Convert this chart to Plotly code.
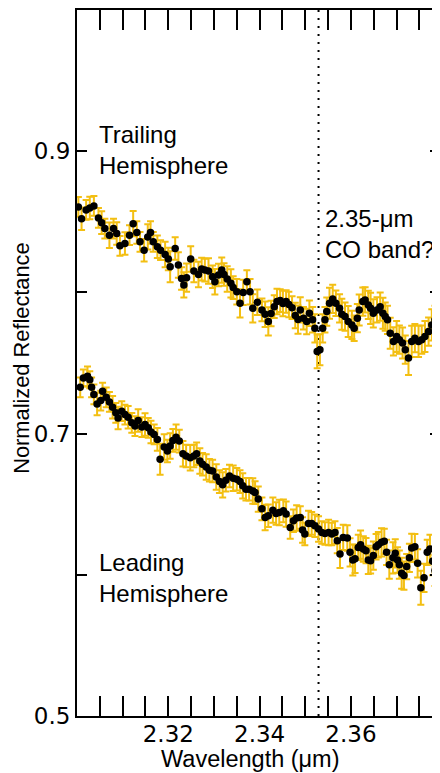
import plotly.graph_objects as go

# ---- data ----
trail_x = [2.3003,2.3010,2.3020,2.3028,2.3037,2.3047,2.3054,2.3061,2.3071,2.3080,
2.3087,2.3094,2.3105,2.3115,2.3123,2.3131,2.3138,2.3147,2.3155,2.3161,
2.3167,2.3176,2.3183,2.3193,2.3200,2.3204,2.3215,2.3222,2.3229,2.3234,
2.3240,2.3249,2.3256,2.3266,2.3273,2.3280,2.3288,2.3297,2.3302,2.3310,
2.3317,2.3322,2.3329,2.3337,2.3342,2.3350,2.3357,2.3364,2.3372,2.3379,
2.3385,2.3395,2.3405,2.3412,2.3419,2.3425,2.3432,2.3438,2.3445,2.3451,
2.3458,2.3464,2.3471,2.3478,2.3484,2.3489,2.3496,2.3503,2.3509,2.3516,
2.3521,2.3526,2.3532,2.3538,2.3543,2.3547,2.3553,2.3560,2.3567,2.3575,
2.3580,2.3587,2.3594,2.3602,2.3607,2.3614,2.3618,2.3626,2.3631,2.3638,
2.3643,2.3649,2.3657,2.3664,2.3670,2.3675,2.3680,2.3686,2.3693,2.3700,
2.3706,2.3713,2.3719,2.3726,2.3733,2.3740,2.3748,2.3755,2.3762,2.3770,
2.3777,2.3784,2.3792]
trail_y = [0.8605,0.8522,0.8584,0.8598,0.8612,0.8527,0.8494,0.8452,0.8405,0.8452,
0.8417,0.8330,0.8346,0.8405,0.8487,0.8424,0.8358,0.8299,0.8393,0.8424,
0.8358,0.8323,0.8299,0.8268,0.8236,0.8182,0.8311,0.8194,0.8099,0.8053,
0.8104,0.8236,0.8151,0.8127,0.8165,0.8158,0.8151,0.8111,0.8076,0.8123,
0.8158,0.8127,0.8095,0.8064,0.8034,0.8005,0.7923,0.8000,0.8076,0.8005,
0.7887,0.7930,0.7876,0.7845,0.7794,0.7850,0.7899,0.7935,0.7942,0.7921,
0.7935,0.7914,0.7892,0.7836,0.7808,0.7876,0.7817,0.7794,0.7852,0.7806,
0.7746,0.7582,0.7594,0.7746,0.7806,0.7864,0.7923,0.7954,0.7923,0.7887,
0.7845,0.7829,0.7794,0.7770,0.7746,0.7817,0.7876,0.7935,0.7947,0.7911,
0.7887,0.7852,0.7876,0.7899,0.7852,0.7829,0.7806,0.7711,0.7653,0.7688,
0.7665,0.7641,0.7594,0.7535,0.7653,0.7676,0.7653,0.7665,0.7688,0.7723,
0.7770,0.7806,0.7829]
trail_err = [0.007,0.008,0.007,0.008,0.007,0.007,0.008,0.007,0.009,0.007,
0.008,0.007,0.008,0.007,0.009,0.008,0.007,0.008,0.009,0.008,
0.007,0.008,0.007,0.009,0.008,0.011,0.008,0.009,0.008,0.009,
0.010,0.009,0.008,0.009,0.008,0.008,0.009,0.008,0.009,0.008,
0.009,0.008,0.009,0.010,0.008,0.009,0.010,0.009,0.008,0.009,
0.010,0.009,0.008,0.009,0.010,0.009,0.008,0.009,0.008,0.009,
0.008,0.009,0.008,0.009,0.010,0.009,0.008,0.009,0.009,0.009,
0.010,0.012,0.011,0.010,0.009,0.010,0.011,0.010,0.009,0.010,
0.011,0.010,0.011,0.010,0.009,0.010,0.011,0.010,0.009,0.010,
0.011,0.010,0.009,0.010,0.011,0.010,0.010,0.011,0.010,0.011,
0.010,0.011,0.010,0.012,0.011,0.010,0.011,0.010,0.011,0.010,
0.011,0.010,0.011]

lead_x = [2.3007,2.3014,2.3023,2.3028,2.3032,2.3037,2.3044,2.3052,2.3056,2.3064,
2.3071,2.3078,2.3085,2.3090,2.3098,2.3105,2.3112,2.3120,2.3127,2.3134,
2.3142,2.3149,2.3156,2.3162,2.3169,2.3176,2.3182,2.3191,2.3198,2.3204,
2.3210,2.3217,2.3224,2.3232,2.3239,2.3248,2.3256,2.3262,2.3269,2.3275,
2.3283,2.3290,2.3297,2.3305,2.3312,2.3319,2.3326,2.3334,2.3342,2.3350,
2.3357,2.3363,2.3370,2.3377,2.3385,2.3390,2.3397,2.3405,2.3412,2.3419,
2.3429,2.3436,2.3443,2.3452,2.3458,2.3467,2.3474,2.3481,2.3489,2.3494,
2.3499,2.3507,2.3514,2.3521,2.3529,2.3536,2.3543,2.3551,2.3558,2.3565,
2.3570,2.3576,2.3583,2.3592,2.3598,2.3604,2.3609,2.3616,2.3621,2.3627,
2.3633,2.3638,2.3643,2.3649,2.3655,2.3660,2.3667,2.3673,2.3678,2.3684,
2.3692,2.3697,2.3702,2.3706,2.3711,2.3716,2.3722,2.3728,2.3733,2.3740,
2.3746,2.3753,2.3760,2.3767,2.3773,2.3779,2.3784,2.3792]
lead_y = [0.7328,0.7394,0.7406,0.7382,0.7328,0.7277,0.7210,0.7234,0.7300,0.7257,
0.7224,0.7187,0.7147,0.7111,0.7159,0.7135,0.7116,0.7076,0.7053,0.7093,
0.7046,0.7065,0.7041,0.7011,0.6994,0.6959,0.6818,0.6905,0.6877,0.6912,
0.6952,0.6975,0.6947,0.6857,0.6841,0.6829,0.6841,0.6857,0.6806,0.6783,
0.6764,0.6740,0.6735,0.6693,0.6660,0.6637,0.6670,0.6700,0.6684,0.6677,
0.6660,0.6630,0.6606,0.6606,0.6594,0.6582,0.6536,0.6467,0.6406,0.6418,
0.6458,0.6434,0.6441,0.6453,0.6430,0.6335,0.6383,0.6402,0.6406,0.6317,
0.6289,0.6364,0.6364,0.6347,0.6324,0.6300,0.6293,0.6300,0.6289,0.6300,
0.6242,0.6148,0.6265,0.6261,0.6159,0.6105,0.6113,0.6194,0.6213,0.6183,
0.6171,0.6105,0.6100,0.6136,0.6199,0.6213,0.6230,0.6237,0.6159,0.6072,
0.6120,0.6152,0.6105,0.6072,0.6011,0.5995,0.6058,0.6120,0.6190,0.6199,
0.6081,0.5908,0.5979,0.6159,0.6183,0.6096,0.6030,0.6025]
lead_err = [0.007,0.006,0.007,0.006,0.007,0.007,0.008,0.007,0.006,0.007,
0.007,0.008,0.007,0.008,0.007,0.007,0.008,0.007,0.007,0.008,
0.007,0.008,0.007,0.008,0.007,0.008,0.011,0.009,0.008,0.009,
0.008,0.009,0.008,0.009,0.008,0.009,0.008,0.008,0.009,0.008,
0.009,0.008,0.008,0.009,0.008,0.009,0.008,0.008,0.009,0.008,
0.008,0.009,0.008,0.008,0.009,0.008,0.009,0.008,0.009,0.008,
0.009,0.008,0.009,0.008,0.009,0.008,0.008,0.009,0.008,0.009,
0.008,0.009,0.008,0.008,0.009,0.008,0.008,0.009,0.008,0.008,
0.009,0.010,0.009,0.009,0.010,0.011,0.010,0.009,0.010,0.009,
0.009,0.010,0.009,0.010,0.009,0.009,0.010,0.009,0.009,0.010,
0.011,0.010,0.009,0.010,0.011,0.010,0.009,0.010,0.010,0.009,
0.010,0.012,0.010,0.009,0.010,0.010,0.011,0.010]

co_band = 2.3529
y_tickvals = [0.5, 0.6, 0.7, 0.8, 0.9, 1.0]
y_ticktext = ["0.5", "", "0.7", "", "0.9", ""]
x_tickvals = [2.32, 2.34, 2.36]
x_ticktext = ["2.32", "2.34", "2.36"]

ERR_COLOR = "#F3BF12"
TICK_FONT = dict(family="DejaVu Sans", size=23, color="black")
TEXT_FONT = "Liberation Sans, Arial, sans-serif"

fig = go.Figure()
for xs, ys, es in [(trail_x, trail_y, trail_err), (lead_x, lead_y, lead_err)]:
    fig.add_trace(go.Scatter(
        x=xs, y=ys, mode="markers",
        marker=dict(color="black", size=7.5, line=dict(width=0)),
        error_y=dict(type="data", array=es, color=ERR_COLOR, thickness=2, width=3.5),
        showlegend=False, hoverinfo="skip",
    ))
# invisible trace to activate right-side y ticks
fig.add_trace(go.Scatter(x=[trail_x[0]], y=[trail_y[0]], yaxis="y2", mode="markers",
                         marker=dict(opacity=0), showlegend=False, hoverinfo="skip"))

fig.add_shape(type="line", x0=co_band, x1=co_band, xref="x", y0=0, y1=1, yref="paper",
              line=dict(color="black", width=2, dash="2px,6px"), layer="below")

fig.update_layout(
    width=432, height=765,
    margin=dict(l=69, r=0, t=0, b=57),
    paper_bgcolor="white", plot_bgcolor="white",
    xaxis=dict(range=[2.30, 2.3795], tickvals=x_tickvals, ticktext=x_ticktext,
               ticks="inside", ticklen=20, tickwidth=2, tickcolor="black",
               minor=dict(dtick=0.005, tick0=2.30, ticks="inside", ticklen=9, tickwidth=2, tickcolor="black"),
               showline=True, linewidth=2, linecolor="black", mirror="allticks",
               showgrid=False, zeroline=False, tickfont=TICK_FONT, ticklabelstandoff=-4),
    yaxis=dict(range=[0.5, 1.0], tickvals=y_tickvals, ticktext=y_ticktext,
               ticks="inside", ticklen=10, tickwidth=2, tickcolor="black",
               showline=True, linewidth=2, linecolor="black", mirror=False,
               showgrid=False, zeroline=False, tickfont=TICK_FONT),
    yaxis2=dict(range=[0.5, 1.0], overlaying="y", side="right", tickvals=y_tickvals,
                ticktext=["", "", "", "", "", ""], ticks="inside", ticklen=10, tickwidth=2,
                tickcolor="black", showline=False, showgrid=False, zeroline=False),
    annotations=[
        dict(text="Trailing<br>Hemisphere", x=2.3044, y=0.9225, xref="x", yref="y",
             xanchor="left", yanchor="top", align="left", showarrow=False,
             font=dict(family=TEXT_FONT, size=24, color="black")),
        dict(text="Leading<br>Hemisphere", x=2.3044, y=0.6195, xref="x", yref="y",
             xanchor="left", yanchor="top", align="left", showarrow=False,
             font=dict(family=TEXT_FONT, size=24, color="black")),
        dict(text="2.35-μm<br>CO band?", x=2.3538, y=0.8630, xref="x", yref="y",
             xanchor="left", yanchor="top", align="left", showarrow=False,
             font=dict(family=TEXT_FONT, size=24, color="black")),
        dict(text="Wavelength (μm)", x=0.478, y=-0.0607, xref="paper", yref="paper",
             xanchor="center", yanchor="middle", showarrow=False,
             font=dict(family=TEXT_FONT, size=23.5, color="black")),
        dict(text="Normalized Reflectance", x=-0.1515, y=0.506, xref="paper", yref="paper",
             xanchor="center", yanchor="middle", textangle=-90, showarrow=False,
             font=dict(family=TEXT_FONT, size=21.8, color="black")),
    ],
)

fig.write_html("out.html")
